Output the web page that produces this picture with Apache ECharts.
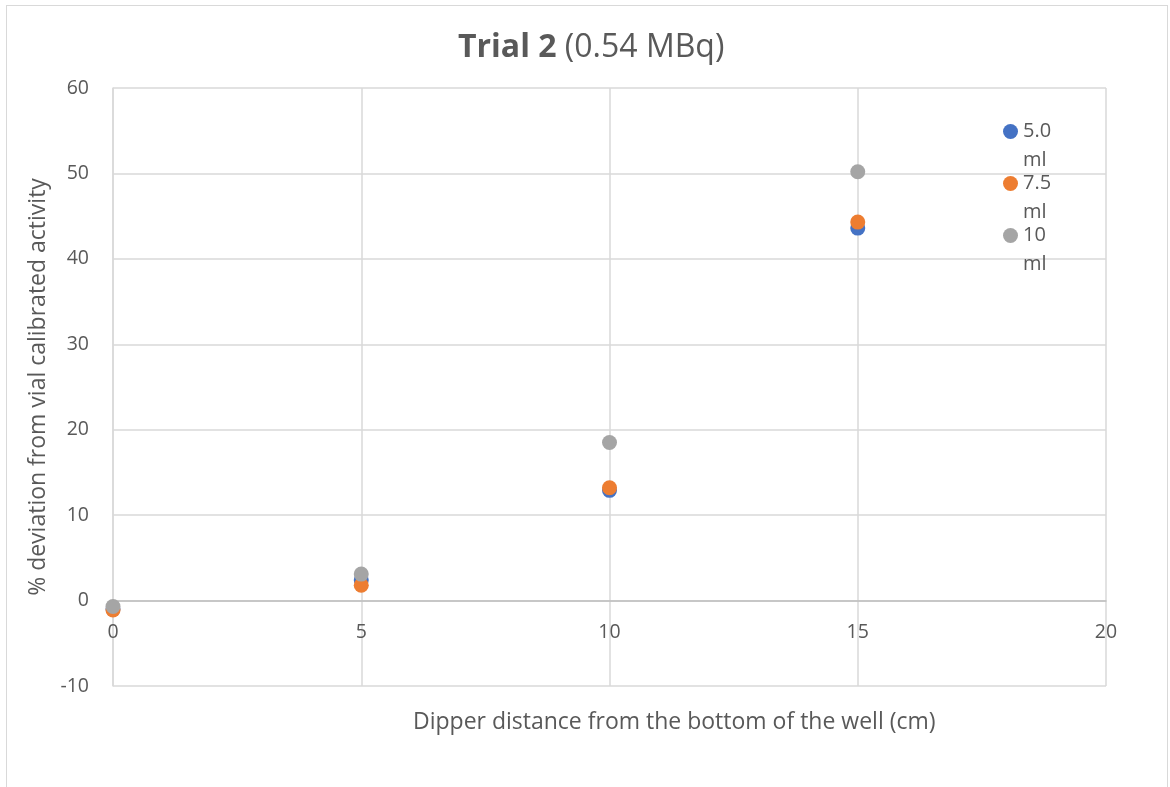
<!DOCTYPE html>
<html>
<head>
<meta charset="utf-8">
<script src="https://cdn.jsdelivr.net/npm/echarts@6/dist/echarts.min.js"></script>
<style>
  html, body { margin: 0; padding: 0; background: #fff; }
  #frame { position: absolute; left: 6px; top: 5px; width: 1162px; height: 800px; border: 1px solid #d9d9d9; box-sizing: border-box; }
  #chart { position: absolute; left: 0; top: 0; width: 1170px; height: 787px; }
</style>
</head>
<body>
<div id="frame"></div>
<div id="chart"></div>
<script>
// Dipper distance (cm) and % deviation for each fill volume
const distances = [0, 5, 10, 15];
const vol50 = [-1.0, 2.4, 12.9, 43.6];
const vol75 = [-1.1, 1.8, 13.2, 44.3];
const vol10 = [-0.7, 3.1, 18.5, 50.2];
const seriesNames = ['5.0 ml', '7.5 ml', '10 ml'];
const seriesColors = ['#4472C4', '#ED7D31', '#A5A5A5'];
const seriesValues = [vol50, vol75, vol10];

const Y_MIN = -10, Y_MAX = 60;
const GRID = { left: 113, right: 64, top: 88, bottom: 101 };
const PLOT_H = 787 - GRID.top - GRID.bottom;
// shift the x axis (line + labels) up from the bottom edge to the y = 0 line
const zeroOffset = -PLOT_H * (0 - Y_MIN) / (Y_MAX - Y_MIN);

const FONT = '"Open Sans", "Noto Sans", sans-serif';
const chart = echarts.init(document.getElementById('chart'));

chart.setOption({
  animation: false,
  backgroundColor: 'transparent',
  title: {
    left: 453,
    top: 27,
    text: '{b|Trial 2}{n| (0.54 MBq)}',
    textStyle: {
      rich: {
        b: { fontFamily: FONT, fontSize: 32, fontWeight: 'bold', color: '#595959' },
        n: { fontFamily: FONT, fontSize: 32, fontWeight: 'normal', color: '#595959' }
      }
    }
  },
  legend: {
    orient: 'vertical',
    left: 998,
    top: 83,
    itemWidth: 15,
    itemHeight: 15,
    itemGap: -35,
    icon: 'circle',
    formatter: name => '\n' + name.replace(' ', '\n'),
    textStyle: {
      fontFamily: FONT,
      fontSize: 20,
      color: '#595959',
      lineHeight: 29
    },
    data: seriesNames
  },
  grid: Object.assign({ containLabel: false }, GRID),
  xAxis: {
    type: 'value',
    min: 0, max: 20, interval: 5,
    offset: zeroOffset,
    axisLine: { onZero: false, lineStyle: { color: '#bfbfbf', width: 1.5 } },
    axisTick: { show: false },
    axisLabel: { margin: 22, fontFamily: FONT, fontSize: 19.5, color: '#595959' },
    splitLine: { show: true, lineStyle: { color: '#d9d9d9', width: 1.5 } }
  },
  yAxis: {
    type: 'value',
    min: Y_MIN, max: Y_MAX, interval: 10,
    name: '% deviation from vial calibrated activity',
    nameLocation: 'middle',
    nameGap: 63,
    nameTextStyle: { fontFamily: FONT, fontSize: 23, color: '#595959' },
    axisLine: { show: true, lineStyle: { color: '#d9d9d9', width: 1.5 } },
    axisTick: { show: false },
    axisLabel: { margin: 24, fontFamily: FONT, fontSize: 19.5, color: '#595959' },
    splitLine: { show: true, lineStyle: { color: '#d9d9d9', width: 1.5 } }
  },
  graphic: [{
    type: 'text',
    left: 413,
    top: 711,
    style: {
      text: 'Dipper distance from the bottom of the well (cm)',
      fontFamily: FONT, fontSize: 23, fill: '#595959'
    }
  }],
  series: seriesNames.map((name, i) => ({
    name,
    type: 'scatter',
    symbol: 'circle',
    symbolSize: 15,
    itemStyle: { color: seriesColors[i], opacity: 1 },
    data: distances.map((d, j) => [d, seriesValues[i][j]])
  }))
});
</script>
</body>
</html>
